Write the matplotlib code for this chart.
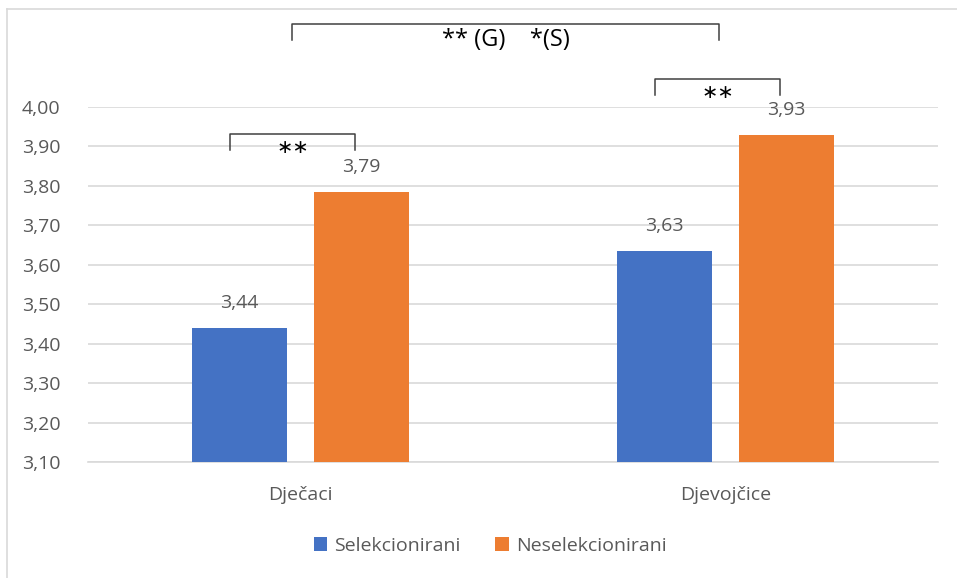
import matplotlib.pyplot as plt
from matplotlib.lines import Line2D
from matplotlib.ticker import FuncFormatter

categories = ["Dječaci", "Djevojčice"]
selekcionirani = [3.44, 3.635]
neselekcionirani = [3.785, 3.93]
labels_sel = ["3,44", "3,63"]
labels_nesel = ["3,79", "3,93"]
series_names = ["Selekcionirani", "Neselekcionirani"]

blue = "#4472C4"
orange = "#ED7D31"
grey = "#595959"

plt.rcParams['font.family'] = ['Open Sans', 'DejaVu Sans']

W, H = 957, 578
fig = plt.figure(figsize=(W / 100, H / 100), dpi=100)
ax = fig.add_axes([88 / W, 1 - 462 / H, 850 / W, 355 / H])

x = list(range(len(categories)))
width = 0.224
off = 0.143
b1 = ax.bar([i - off for i in x], selekcionirani, width, color=blue, label=series_names[0], zorder=3)
b2 = ax.bar([i + off for i in x], neselekcionirani, width, color=orange, label=series_names[1], zorder=3)

for bars, labs in ((b1, labels_sel), (b2, labels_nesel)):
    for rect, lab in zip(bars, labs):
        ax.text(rect.get_x() + rect.get_width() / 2, rect.get_height() + 0.063, lab,
                ha="center", va="center", fontsize=14, color=grey)

ax.set_xlim(-0.5, 1.5)
ax.set_ylim(3.1, 4.0)
ax.set_yticks([3.1 + 0.1 * k for k in range(10)])
ax.yaxis.set_major_formatter(FuncFormatter(lambda v, p: f"{v:.2f}".replace(".", ",")))
ax.set_xticks(x)
ax.set_xticklabels(categories)
ax.tick_params(axis="both", length=0, labelsize=14, colors=grey)
ax.tick_params(axis="x", pad=17)
ax.tick_params(axis="y", pad=20)
ax.grid(axis="y", color="#D9D9D9", linewidth=1.2, zorder=0)
for s in ["top", "right", "left"]:
    ax.spines[s].set_visible(False)
ax.spines["bottom"].set_color("#D9D9D9")
ax.spines["bottom"].set_linewidth(1.2)


def bracket(x0, x1, ytop, ybot, text, fs, ty):
    ax.plot([x0, x0, x1, x1], [ybot, ytop, ytop, ybot], color="#404040", lw=1.1, clip_on=False)
    ax.text((x0 + x1) / 2, ty, text, ha="center", va="center", fontsize=fs,
            color="black", clip_on=False)


bracket(-0.166, 0.128, 3.932, 3.891, "\u2217\u2217", 14, 3.897)
bracket(0.834, 1.128, 4.071, 4.030, "\u2217\u2217", 14, 4.036)
bracket(-0.02, 0.985, 4.211, 4.170, "** (G)    *(S)", 17, 4.170)

fig.add_artist(Line2D([7 / W, 1], [1 - 9 / H, 1 - 9 / H], color="#D9D9D9", lw=1.2))
fig.add_artist(Line2D([7 / W, 7 / W], [0, 1 - 9 / H], color="#D9D9D9", lw=1.2))

ax.legend(loc="center", bbox_to_anchor=(490 / W, 1 - 546 / H), bbox_transform=fig.transFigure,
          ncol=2, frameon=False, fontsize=14, handlelength=0.7, handleheight=0.7,
          handletextpad=0.35, columnspacing=1.8, labelcolor=grey)

fig.savefig("out.png", dpi=100)
